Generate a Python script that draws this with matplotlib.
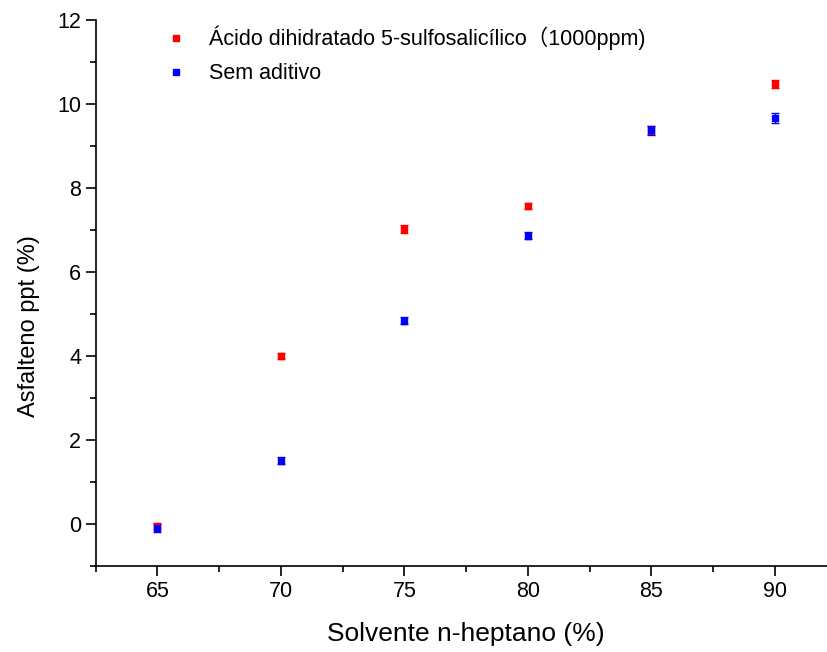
import matplotlib.pyplot as plt
from matplotlib.ticker import MultipleLocator
from matplotlib.lines import Line2D

plt.rcParams['font.family'] = ['Liberation Sans', 'Noto Sans CJK SC', 'DejaVu Sans']

# solvent fraction (%)
heptano = [65, 70, 75, 80, 85, 90]

# asphaltene precipitated (%)
acido = [-0.05, 4.0, 7.02, 7.57, 9.38, 10.48]
acido_err = [0.08, 0.08, 0.1, 0.08, 0.1, 0.1]
sem_aditivo = [-0.1, 1.51, 4.84, 6.86, 9.37, 9.66]
sem_err = [0.1, 0.08, 0.08, 0.08, 0.1, 0.12]

labels = ['Ácido dihidratado 5-sulfosalicílico（1000ppm)', 'Sem aditivo']
cores = ['#ff0000', '#0000ff']

fig = plt.figure(figsize=(8.27, 6.52), dpi=100)
ax = fig.add_axes([0.1157, 0.132, 0.8957, 0.8374])

ax.errorbar(heptano, acido, yerr=acido_err, fmt='s', color=cores[0],
            ms=5, capsize=3, elinewidth=1, capthick=1)
ax.errorbar(heptano, sem_aditivo, yerr=sem_err, fmt='s', color=cores[1],
            ms=5, capsize=3, elinewidth=1, capthick=1)

ax.set_xlim(62.5, 92.5)
ax.set_ylim(-1, 12)
ax.xaxis.set_major_locator(MultipleLocator(5))
ax.xaxis.set_minor_locator(MultipleLocator(2.5))
ax.yaxis.set_major_locator(MultipleLocator(2))
ax.yaxis.set_minor_locator(MultipleLocator(1))

for side in ['top', 'right']:
    ax.spines[side].set_visible(False)
for side in ['left', 'bottom']:
    ax.spines[side].set_linewidth(1.2)

ax.tick_params(which='major', direction='out', length=7, width=1.2, labelsize=15.5)
ax.tick_params(which='minor', direction='out', length=4, width=1.2)

ax.set_xlabel('Solvente n-heptano (%)', fontsize=19, labelpad=15)
ax.set_ylabel('Asfalteno ppt (%)', fontsize=17, labelpad=12)
ax.yaxis.label.set_y(0.44)

handles = [Line2D([], [], ls='', marker='s', ms=5, color=c) for c in cores]
ax.legend(handles, labels, loc='upper left', bbox_to_anchor=(0.06, 1.025),
          frameon=False, fontsize=15.5, handletextpad=0.8, labelspacing=0.6,
          handlelength=1.5)

fig.savefig('out.png', dpi=100)
